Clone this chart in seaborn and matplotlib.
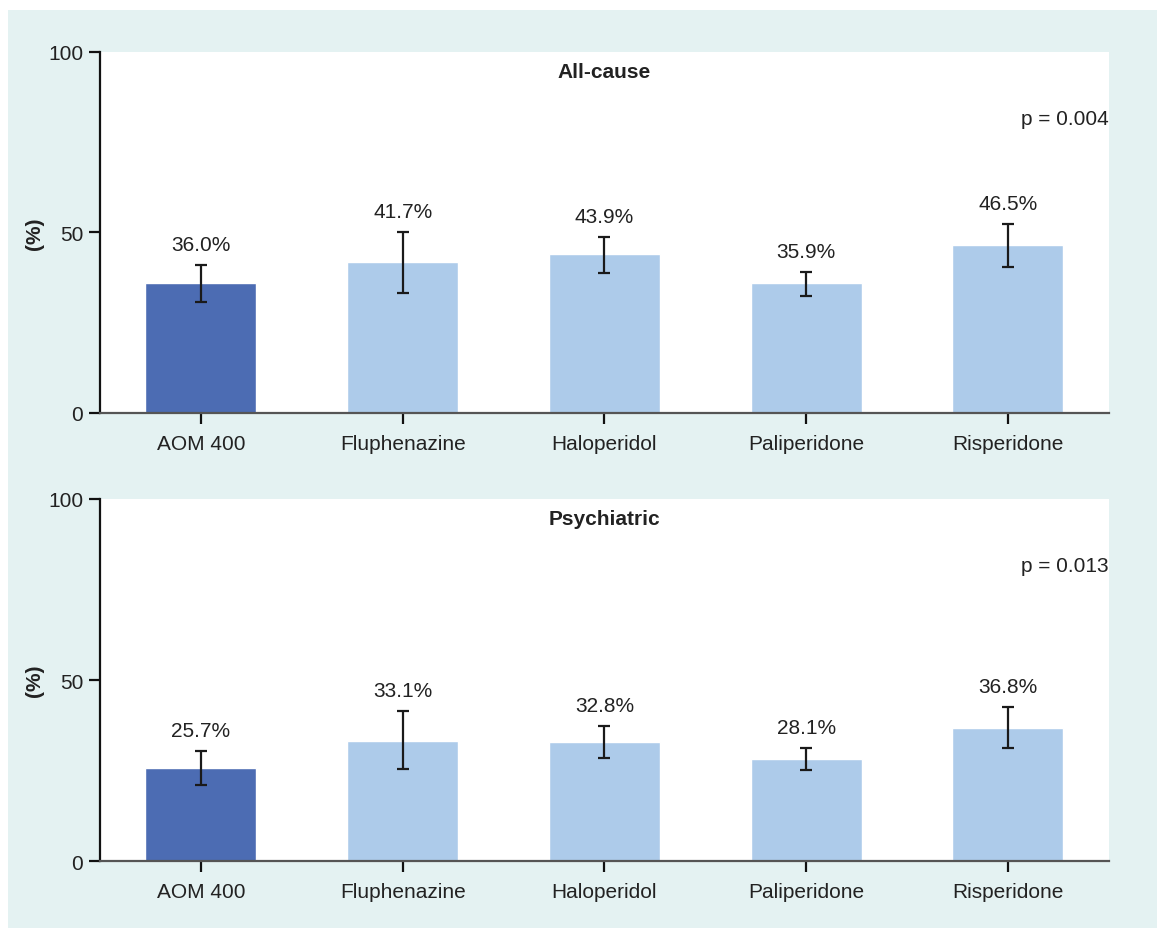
import matplotlib
matplotlib.use("Agg")
import matplotlib.pyplot as plt
from matplotlib.patches import Rectangle
import numpy as np
import pandas as pd
import seaborn as sns

# data
drugs = ["AOM 400", "Fluphenazine", "Haloperidol", "Paliperidone", "Risperidone"]

allcause = [36.0, 41.7, 43.9, 35.9, 46.5]
allcause_lo = [30.7, 33.2, 38.8, 32.5, 40.4]
allcause_hi = [41.0, 50.1, 48.7, 39.0, 52.4]

psych = [25.7, 33.1, 32.8, 28.1, 36.8]
psych_lo = [21.1, 25.4, 28.4, 25.1, 31.1]
psych_hi = [30.3, 41.4, 37.4, 31.1, 42.6]

panel_titles = ["All-cause", "Psychiatric"]
p_values = ["p = 0.004", "p = 0.013"]

sns.set_theme(style="white")
plt.rcParams['font.family'] = ['Liberation Sans', 'DejaVu Sans']

dark = "#4c6cb3"
light = "#adcbea"
teal = "#e4f2f2"
palette = [dark] + [light] * 4
FS = 15

fig = plt.figure(figsize=(11.57, 9.29), dpi=100)
fig.patch.set_facecolor("white")
fig.patches.append(Rectangle((8 / 1157, 0), 1, 1 - 11 / 929, transform=fig.transFigure,
                             facecolor=teal, edgecolor="none", zorder=-10))

ax_top = fig.add_axes([0.0864, 0.5544, 0.872, 0.3886])
ax_bot = fig.add_axes([0.0864, 0.0721, 0.872, 0.3897])

panels = [
    (ax_top, allcause, allcause_lo, allcause_hi),
    (ax_bot, psych, psych_lo, psych_hi),
]

for i, (ax, vals, lo, hi) in enumerate(panels):
    df = pd.DataFrame({"drug": drugs, "pct": vals})
    sns.barplot(data=df, x="drug", y="pct", hue="drug", order=drugs, hue_order=drugs,
                palette=palette, width=0.55, legend=False, ax=ax, saturation=1)
    xs = np.arange(len(drugs))
    v = np.array(vals)
    yerr = np.vstack([v - np.array(lo), np.array(hi) - v])
    ax.errorbar(xs, v, yerr=yerr, fmt="none", ecolor="#1a1a1a", elinewidth=1.6,
                capsize=4, capthick=1.6, zorder=5)
    for x, top, val in zip(xs, hi, vals):
        ax.annotate(f"{val:.1f}%", (x, top), xytext=(0, 8), textcoords="offset points",
                    ha="center", va="bottom", fontsize=FS, color="#222222")

    ax.set_ylim(0, 100)
    ax.set_xlim(-0.5, len(drugs) - 0.5)
    ax.set_yticks([0, 50, 100])
    ax.set_xlabel("")
    ax.set_ylabel("(%)", fontsize=FS, fontweight="bold", color="#222222")
    ax.yaxis.set_label_coords(-0.0555, 0.5)
    ax.set_facecolor("white")

    for s in ["top", "right"]:
        ax.spines[s].set_visible(False)
    ax.spines["left"].set_color("#111111")
    ax.spines["left"].set_linewidth(1.6)
    ax.spines["bottom"].set_color("#555555")
    ax.spines["bottom"].set_linewidth(1.6)
    ax.tick_params(axis="both", which="major", direction="out", length=8, width=1.6,
                   color="#111111", labelsize=FS, labelcolor="#222222", pad=4,
                   left=True, bottom=True)
    ax.tick_params(axis="x", pad=7)

    ax.text(0.5, 0.947, panel_titles[i], transform=ax.transAxes, ha="center", va="center",
            fontsize=FS, fontweight="bold", color="#222222")
    ax.text(1.0, 0.817, p_values[i], transform=ax.transAxes, ha="right", va="center",
            fontsize=FS, color="#222222")

fig.savefig("out.png", dpi=100, facecolor=fig.get_facecolor())
